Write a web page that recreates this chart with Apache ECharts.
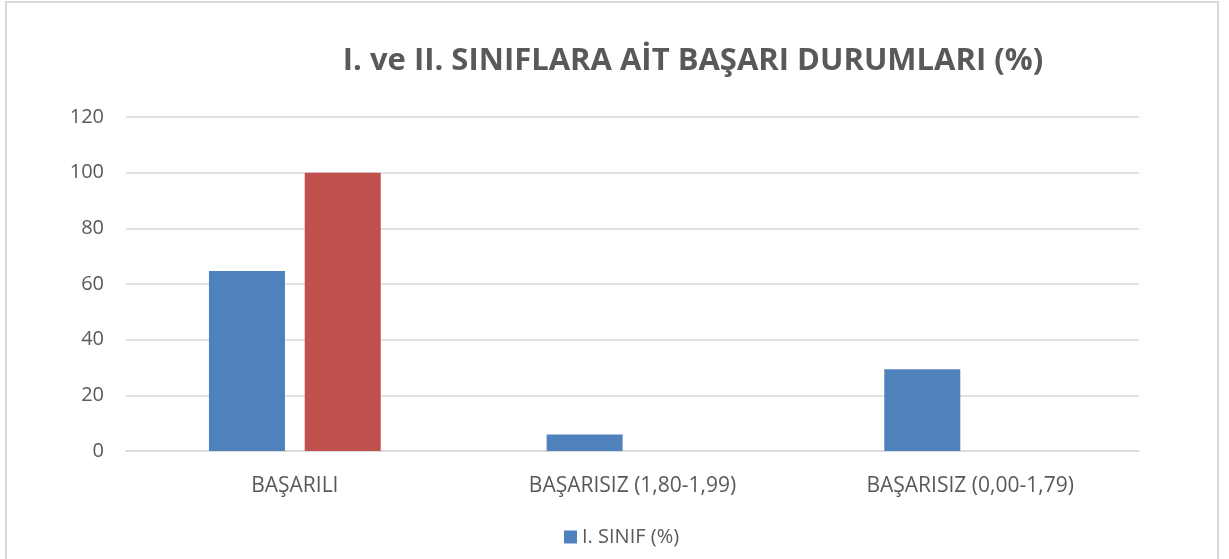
<!DOCTYPE html>
<html>
<head>
<meta charset="utf-8">
<script src="https://cdn.jsdelivr.net/npm/echarts@6/dist/echarts.min.js"></script>
<style>
  html, body { margin: 0; padding: 0; background: #fff; }
  #chart { width: 1229px; height: 559px; }
</style>
</head>
<body>
<div id="chart"></div>
<script>
// kategoriler ve değerler
const categories = ['BAŞARILI', 'BAŞARISIZ (1,80-1,99)', 'BAŞARISIZ (0,00-1,79)']
const sinif1 = [64.7, 5.9, 29.4]
const sinif2 = [100, 0, 0]
const seriesNames = ['I. SINIF (%)', 'II. SINIF (%)']
const yTicks = { min: 0, max: 120, interval: 20 }

const font = '"Open Sans", sans-serif'
const gray = '#595959'

const chart = echarts.init(document.getElementById('chart'))
const option = {
  animation: false,
  title: {
    text: 'I. ve II. SINIFLARA AİT BAŞARI DURUMLARI (%)',
    left: 688,
    textAlign: 'center',
    top: 41,
    textStyle: { fontFamily: font, fontWeight: 'bold', fontSize: 31, color: gray },
  },
  graphic: [
    {
      type: 'rect',
      shape: { x: 6, y: 2, width: 1212, height: 620 },
      style: { fill: 'none', stroke: '#d9d9d9', lineWidth: 2 },
      silent: true,
    },
  ],
  legend: {
    data: [seriesNames[0]],
    left: 559,
    top: 522,
    itemWidth: 13,
    itemHeight: 13,
    itemGap: 6,
    icon: 'rect',
    textStyle: { fontFamily: font, fontSize: 20, color: gray },
  },
  grid: { left: 126, right: 90, top: 117, bottom: 108, containLabel: false },
  xAxis: {
    type: 'category',
    data: categories,
    axisLine: { lineStyle: { color: '#d9d9d9', width: 1.5 } },
    axisTick: { show: false },
    axisLabel: { fontFamily: font, fontSize: 21, color: gray, margin: 25 },
  },
  yAxis: {
    type: 'value',
    min: yTicks.min,
    max: yTicks.max,
    interval: yTicks.interval,
    axisLine: { show: false },
    axisTick: { show: false },
    axisLabel: { fontFamily: font, fontSize: 20, color: gray, margin: 22 },
    splitLine: { lineStyle: { color: '#d9d9d9', width: 1.5 } },
  },
  series: [
    {
      name: seriesNames[0],
      type: 'bar',
      data: sinif1,
      barWidth: 76,
      barGap: '26%',
      itemStyle: { color: '#4f81bd' },
    },
    {
      name: seriesNames[1],
      type: 'bar',
      data: sinif2,
      barWidth: 76,
      barGap: '26%',
      itemStyle: { color: '#c0504d' },
    },
  ],
}
chart.setOption(option)
</script>
</body>
</html>
